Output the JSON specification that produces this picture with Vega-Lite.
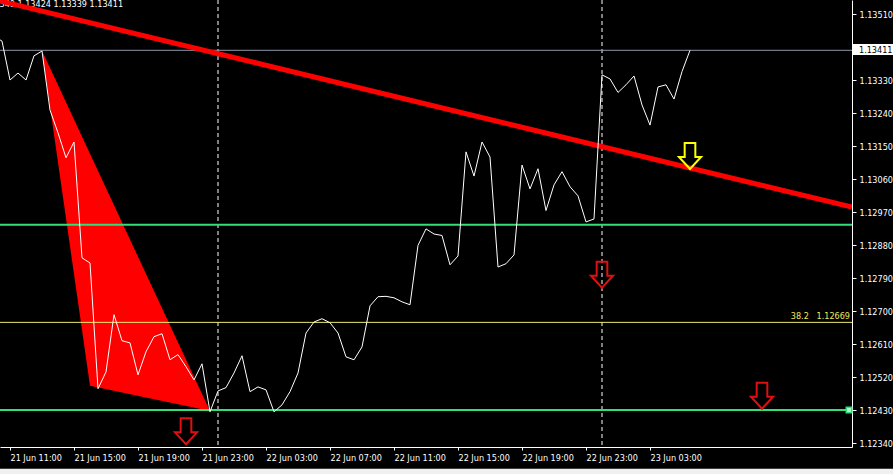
{
  "$schema": "https://vega.github.io/schema/vega-lite/v6.json",
  "width": 852,
  "height": 447,
  "padding": {"left": 0, "top": 0, "right": 41, "bottom": 27},
  "autosize": {"type": "none"},
  "background": "#000000",
  "config": {
    "view": {"stroke": null},
    "font": "DejaVu Sans Condensed, Liberation Sans, sans-serif",
    "axis": {
      "domainColor": "#ffffff",
      "domainWidth": 1,
      "tickColor": "#ffffff",
      "tickWidth": 1,
      "labelColor": "#ffffff",
      "labelFont": "DejaVu Sans Condensed, Liberation Sans, sans-serif",
      "labelFontSize": 9,
      "grid": false,
      "labelOverlap": false,
      "labelFlush": false
    }
  },
  "datasets": {
    "price": [
      {"t": "2019-06-21T10:00:00", "p": 1.13450},
      {"t": "2019-06-21T10:30:00", "p": 1.13436},
      {"t": "2019-06-21T11:00:00", "p": 1.13330},
      {"t": "2019-06-21T11:30:00", "p": 1.13349},
      {"t": "2019-06-21T12:00:00", "p": 1.13330},
      {"t": "2019-06-21T12:30:00", "p": 1.13396},
      {"t": "2019-06-21T13:00:00", "p": 1.13409},
      {"t": "2019-06-21T13:30:00", "p": 1.13248},
      {"t": "2019-06-21T14:00:00", "p": 1.13186},
      {"t": "2019-06-21T14:30:00", "p": 1.13118},
      {"t": "2019-06-21T15:00:00", "p": 1.13161},
      {"t": "2019-06-21T15:30:00", "p": 1.12845},
      {"t": "2019-06-21T16:00:00", "p": 1.12831},
      {"t": "2019-06-21T16:30:00", "p": 1.12488},
      {"t": "2019-06-21T17:00:00", "p": 1.12534},
      {"t": "2019-06-21T17:30:00", "p": 1.12690},
      {"t": "2019-06-21T18:00:00", "p": 1.12619},
      {"t": "2019-06-21T18:30:00", "p": 1.12613},
      {"t": "2019-06-21T19:00:00", "p": 1.12526},
      {"t": "2019-06-21T19:30:00", "p": 1.12589},
      {"t": "2019-06-21T20:00:00", "p": 1.12630},
      {"t": "2019-06-21T20:30:00", "p": 1.12638},
      {"t": "2019-06-21T21:00:00", "p": 1.12567},
      {"t": "2019-06-21T21:30:00", "p": 1.12581},
      {"t": "2019-06-21T22:00:00", "p": 1.12548},
      {"t": "2019-06-21T22:30:00", "p": 1.12512},
      {"t": "2019-06-21T23:00:00", "p": 1.12556},
      {"t": "2019-06-21T23:30:00", "p": 1.12425},
      {"t": "2019-06-22T00:00:00", "p": 1.12482},
      {"t": "2019-06-22T00:30:00", "p": 1.12491},
      {"t": "2019-06-22T01:00:00", "p": 1.12531},
      {"t": "2019-06-22T01:30:00", "p": 1.12578},
      {"t": "2019-06-22T02:00:00", "p": 1.12480},
      {"t": "2019-06-22T02:30:00", "p": 1.12493},
      {"t": "2019-06-22T03:00:00", "p": 1.12485},
      {"t": "2019-06-22T03:30:00", "p": 1.12425},
      {"t": "2019-06-22T04:00:00", "p": 1.12444},
      {"t": "2019-06-22T04:30:00", "p": 1.12480},
      {"t": "2019-06-22T05:00:00", "p": 1.12531},
      {"t": "2019-06-22T05:30:00", "p": 1.12640},
      {"t": "2019-06-22T06:00:00", "p": 1.12670},
      {"t": "2019-06-22T06:30:00", "p": 1.12679},
      {"t": "2019-06-22T07:00:00", "p": 1.12668},
      {"t": "2019-06-22T07:30:00", "p": 1.12640},
      {"t": "2019-06-22T08:00:00", "p": 1.12575},
      {"t": "2019-06-22T08:30:00", "p": 1.12567},
      {"t": "2019-06-22T09:00:00", "p": 1.12602},
      {"t": "2019-06-22T09:30:00", "p": 1.12714},
      {"t": "2019-06-22T10:00:00", "p": 1.12739},
      {"t": "2019-06-22T10:30:00", "p": 1.12740},
      {"t": "2019-06-22T11:00:00", "p": 1.12736},
      {"t": "2019-06-22T11:30:00", "p": 1.12725},
      {"t": "2019-06-22T12:00:00", "p": 1.12717},
      {"t": "2019-06-22T12:30:00", "p": 1.12879},
      {"t": "2019-06-22T13:00:00", "p": 1.12924},
      {"t": "2019-06-22T13:30:00", "p": 1.12910},
      {"t": "2019-06-22T14:00:00", "p": 1.12906},
      {"t": "2019-06-22T14:30:00", "p": 1.12826},
      {"t": "2019-06-22T15:00:00", "p": 1.12850},
      {"t": "2019-06-22T15:30:00", "p": 1.13134},
      {"t": "2019-06-22T16:00:00", "p": 1.13068},
      {"t": "2019-06-22T16:30:00", "p": 1.13161},
      {"t": "2019-06-22T17:00:00", "p": 1.13120},
      {"t": "2019-06-22T17:30:00", "p": 1.12820},
      {"t": "2019-06-22T18:00:00", "p": 1.12829},
      {"t": "2019-06-22T18:30:00", "p": 1.12853},
      {"t": "2019-06-22T19:00:00", "p": 1.13098},
      {"t": "2019-06-22T19:30:00", "p": 1.13033},
      {"t": "2019-06-22T20:00:00", "p": 1.13088},
      {"t": "2019-06-22T20:30:00", "p": 1.12974},
      {"t": "2019-06-22T21:00:00", "p": 1.13044},
      {"t": "2019-06-22T21:30:00", "p": 1.13080},
      {"t": "2019-06-22T22:00:00", "p": 1.13039},
      {"t": "2019-06-22T22:30:00", "p": 1.13014},
      {"t": "2019-06-22T23:00:00", "p": 1.12943},
      {"t": "2019-06-22T23:30:00", "p": 1.12951},
      {"t": "2019-06-23T00:00:00", "p": 1.13344},
      {"t": "2019-06-23T00:30:00", "p": 1.13333},
      {"t": "2019-06-23T01:00:00", "p": 1.13296},
      {"t": "2019-06-23T01:30:00", "p": 1.13317},
      {"t": "2019-06-23T02:00:00", "p": 1.13341},
      {"t": "2019-06-23T02:30:00", "p": 1.13262},
      {"t": "2019-06-23T03:00:00", "p": 1.13207},
      {"t": "2019-06-23T03:30:00", "p": 1.13311},
      {"t": "2019-06-23T04:00:00", "p": 1.13317},
      {"t": "2019-06-23T04:30:00", "p": 1.13278},
      {"t": "2019-06-23T05:00:00", "p": 1.13353},
      {"t": "2019-06-23T05:30:00", "p": 1.13411}
    ],
    "seps": [
      {"t": "2019-06-22T00:00:00"},
      {"t": "2019-06-23T00:00:00"}
    ],
    "triangle": [
      {"t": "2019-06-21T13:00:00", "p": 1.13410, "p2": 1.13410},
      {"t": "2019-06-21T16:00:00", "p": 1.13129, "p2": 1.12496},
      {"t": "2019-06-21T23:30:00", "p": 1.12427, "p2": 1.12427}
    ],
    "hlines": [
      {"p": 1.12935, "kind": "level"},
      {"p": 1.12430, "kind": "level"},
      {"p": 1.12669, "kind": "fib"},
      {"p": 1.13411, "kind": "bid"}
    ],
    "trend": [
      {"t": "2019-06-21T10:22:30", "p": 1.135455},
      {"t": "2019-06-23T15:37:30", "p": 1.129834}
    ],
    "arrows": [
      {"t": "2019-06-21T22:00:00", "p": 1.12372, "kind": "red"},
      {"t": "2019-06-23T00:00:00", "p": 1.12799, "kind": "red"},
      {"t": "2019-06-23T10:00:00", "p": 1.12469, "kind": "red"},
      {"t": "2019-06-23T05:30:00", "p": 1.13123, "kind": "yellow"}
    ],
    "notes": [
      {"t": "2019-06-21T18:04:00", "p": 1.135292, "label": "1.13349 1.13424 1.13339 1.13411", "kind": "ohlc"},
      {"t": "2019-06-23T15:37:30", "p": 1.12669, "label": "38.2\u00a0\u00a0\u00a01.12669", "kind": "fib"}
    ],
    "bidbox": [
      {"t": "2019-06-23T15:41:15", "t2": "2019-06-23T18:30:00", "p": 1.13428, "p2": 1.13398, "label": "1.13411", "tl": "2019-06-23T16:03:45", "pl": 1.13411}
    ],
    "anchor": [
      {"t": "2019-06-23T15:26:15", "p": 1.12430}
    ],
    "strip": [
      {"t": "2019-06-21T09:00:00", "t2": "2019-06-23T19:00:00", "p": 1.12270, "p2": 1.12230}
    ]
  },
  "layer": [
    {
      "data": {"name": "price"},
      "mark": {"type": "line", "color": "#ffffff", "strokeWidth": 1, "clip": true, "opacity": 0},
      "encoding": {
        "x": {"field": "t", "type": "temporal", "title": null,
              "scale": {"domain": [{"year": 2019, "month": 6, "date": 21, "hours": 10, "minutes": 22, "seconds": 30}, {"year": 2019, "month": 6, "date": 23, "hours": 15, "minutes": 37, "seconds": 30}]},
              "axis": {"orient": "bottom", "format": "%d %b %H:%M", "labelAlign": "left", "labelBaseline": "top", "labelPadding": 3, "tickSize": 3, "labelBound": false, "labelOverlap": false, "tickCount": 40,
                       "values": [
                         {"year": 2019, "month": 6, "date": 21, "hours": 11},
                         {"year": 2019, "month": 6, "date": 21, "hours": 15},
                         {"year": 2019, "month": 6, "date": 21, "hours": 19},
                         {"year": 2019, "month": 6, "date": 21, "hours": 23},
                         {"year": 2019, "month": 6, "date": 22, "hours": 3},
                         {"year": 2019, "month": 6, "date": 22, "hours": 7},
                         {"year": 2019, "month": 6, "date": 22, "hours": 11},
                         {"year": 2019, "month": 6, "date": 22, "hours": 15},
                         {"year": 2019, "month": 6, "date": 22, "hours": 19},
                         {"year": 2019, "month": 6, "date": 22, "hours": 23},
                         {"year": 2019, "month": 6, "date": 23, "hours": 3}
                       ]}},
        "y": {"field": "p", "type": "quantitative", "title": null,
              "scale": {"domain": [1.123291, 1.135482], "nice": false, "zero": false},
              "axis": {"orient": "right", "format": ".5f", "tickSize": 4, "labelPadding": 3, "labelAlign": "left", "labelBaseline": "middle", "labelOverlap": false, "labelBound": false, "tickCount": 40,
                       "values": [1.1351, 1.1333, 1.1324, 1.1315, 1.1306, 1.1297, 1.1288, 1.1279, 1.127, 1.1261, 1.1252, 1.1243, 1.1234]}}
      }
    },
    {
      "data": {"name": "seps"},
      "mark": {"type": "rule", "color": "#ffffff", "strokeWidth": 1, "strokeDash": [4, 3]},
      "encoding": {
        "x": {"field": "t", "type": "temporal", "title": null}
      }
    },
    {
      "data": {"name": "triangle"},
      "mark": {"type": "area", "color": "#ff0000", "opacity": 1, "clip": true},
      "encoding": {
        "x": {"field": "t", "type": "temporal", "title": null},
        "y": {"field": "p", "type": "quantitative", "title": null},
        "y2": {"field": "p2"}
      }
    },
    {
      "data": {"name": "hlines"},
      "transform": [{"filter": "datum.kind === 'level'"}],
      "mark": {"type": "rule", "color": "#33dd77", "strokeWidth": 2},
      "encoding": {"y": {"field": "p", "type": "quantitative", "title": null}}
    },
    {
      "data": {"name": "hlines"},
      "transform": [{"filter": "datum.kind === 'fib'"}],
      "mark": {"type": "rule", "color": "#eee870", "strokeWidth": 1},
      "encoding": {"y": {"field": "p", "type": "quantitative", "title": null}}
    },
    {
      "data": {"name": "hlines"},
      "transform": [{"filter": "datum.kind === 'bid'"}],
      "mark": {"type": "rule", "color": "#8e98ac", "strokeWidth": 1},
      "encoding": {"y": {"field": "p", "type": "quantitative", "title": null}}
    },
    {
      "data": {"name": "notes"},
      "transform": [{"filter": "datum.kind === 'ohlc'"}],
      "mark": {"type": "text", "color": "#ffffff", "fontSize": 9, "align": "right", "baseline": "alphabetic", "clip": true},
      "encoding": {
        "x": {"field": "t", "type": "temporal", "title": null},
        "y": {"field": "p", "type": "quantitative", "title": null},
        "text": {"field": "label"}
      }
    },
    {
      "data": {"name": "trend"},
      "mark": {"type": "line", "color": "#ff0000", "strokeWidth": 5, "clip": true, "strokeCap": "butt"},
      "encoding": {
        "x": {"field": "t", "type": "temporal", "title": null},
        "y": {"field": "p", "type": "quantitative", "title": null}
      }
    },
    {
      "data": {"name": "price"},
      "mark": {"type": "line", "color": "#ffffff", "strokeWidth": 1, "clip": true},
      "encoding": {
        "x": {"field": "t", "type": "temporal", "title": null},
        "y": {"field": "p", "type": "quantitative", "title": null}
      }
    },
    {
      "data": {"name": "arrows"},
      "transform": [{"filter": "datum.kind === 'red'"}],
      "mark": {"type": "point", "shape": "M-0.41,-1L0.41,-1L0.41,0.08L0.85,0.08L0,1L-0.85,0.08L-0.41,0.08Z", "size": 676, "filled": false, "color": "#dd1111", "strokeWidth": 2, "opacity": 1},
      "encoding": {
        "x": {"field": "t", "type": "temporal", "title": null},
        "y": {"field": "p", "type": "quantitative", "title": null}
      }
    },
    {
      "data": {"name": "arrows"},
      "transform": [{"filter": "datum.kind === 'yellow'"}],
      "mark": {"type": "point", "shape": "M-0.41,-1L0.41,-1L0.41,0.08L0.85,0.08L0,1L-0.85,0.08L-0.41,0.08Z", "size": 676, "filled": false, "color": "#ffff00", "strokeWidth": 2, "opacity": 1},
      "encoding": {
        "x": {"field": "t", "type": "temporal", "title": null},
        "y": {"field": "p", "type": "quantitative", "title": null}
      }
    },
    {
      "data": {"name": "notes"},
      "transform": [{"filter": "datum.kind === 'fib'"}],
      "mark": {"type": "text", "color": "#eee860", "fontSize": 9, "align": "right", "baseline": "bottom", "dx": -2, "dy": -1},
      "encoding": {
        "x": {"field": "t", "type": "temporal", "title": null},
        "y": {"field": "p", "type": "quantitative", "title": null},
        "text": {"field": "label"}
      }
    },
    {
      "data": {"name": "anchor"},
      "mark": {"type": "point", "shape": "square", "size": 30, "filled": true, "color": "#9dffc8", "stroke": "#33dd77", "strokeWidth": 1.5, "opacity": 1},
      "encoding": {
        "x": {"field": "t", "type": "temporal", "title": null},
        "y": {"field": "p", "type": "quantitative", "title": null}
      }
    },
    {
      "data": {"name": "bidbox"},
      "mark": {"type": "rect", "color": "#ffffff", "clip": false},
      "encoding": {
        "x": {"field": "t", "type": "temporal", "title": null},
        "x2": {"field": "t2"},
        "y": {"field": "p", "type": "quantitative", "title": null},
        "y2": {"field": "p2"}
      }
    },
    {
      "data": {"name": "bidbox"},
      "mark": {"type": "text", "color": "#000000", "fontSize": 9, "align": "left", "baseline": "middle"},
      "encoding": {
        "x": {"field": "tl", "type": "temporal", "title": null},
        "y": {"field": "pl", "type": "quantitative", "title": null},
        "text": {"field": "label"}
      }
    },
    {
      "data": {"name": "strip"},
      "mark": {"type": "rect", "color": "#f0f0f0", "clip": false},
      "encoding": {
        "x": {"field": "t", "type": "temporal", "title": null},
        "x2": {"field": "t2"},
        "y": {"field": "p", "type": "quantitative", "title": null},
        "y2": {"field": "p2"}
      }
    }
  ]
}
